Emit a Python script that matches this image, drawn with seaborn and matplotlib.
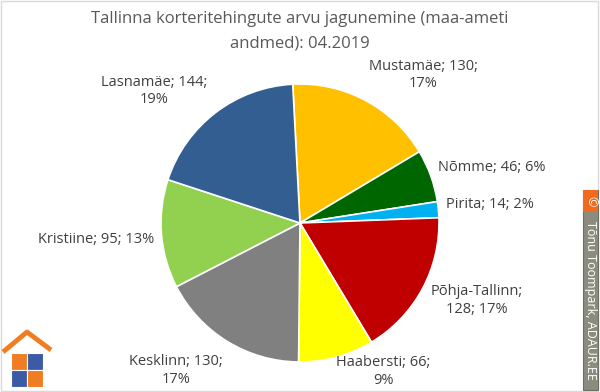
import matplotlib
matplotlib.use("Agg")
import matplotlib.pyplot as plt
import matplotlib.patches as mpatches
import numpy as np
import seaborn as sns

sns.set_theme(style="white")
plt.rcParams['font.family'] = ['Open Sans', 'DejaVu Sans']

# data (clockwise from top)
districts = ["Mustamäe", "Nõmme", "Pirita", "Põhja-Tallinn", "Haabersti",
             "Kesklinn", "Kristiine", "Lasnamäe"]
deals = [130, 46, 14, 128, 66, 130, 95, 144]
pcts = [17, 6, 2, 17, 9, 17, 13, 19]
colors = ["#FFC000", "#006600", "#00B0F0", "#C00000", "#FFFF00",
          "#808080", "#92D050", "#335E91"]
# where each label goes (pie radius units) and how it wraps
label_pos = [(0.885, 1.065), (1.38, 0.40), (1.37, 0.13), (1.27, -0.56),
             (0.60, -1.07), (-0.89, -1.06), (-1.47, -0.12), (-1.05, 0.95)]
wrap = ["after2", "none", "none", "after1", "after2", "after2", "none", "after2"]

fig = plt.figure(figsize=(6, 3.92), dpi=100)
ax = fig.add_axes([0, 0, 1, 1])
ax.pie(deals, colors=colors, startangle=93, counterclock=False, radius=1,
       wedgeprops=dict(edgecolor="white", linewidth=1.2))
ax.set_xlim(-300 / 139, 300 / 139)
ax.set_ylim(-169 / 139, 223 / 139)
ax.set_aspect("equal")
ax.axis("off")

for name, n, p, (x, y), w in zip(districts, deals, pcts, label_pos, wrap):
    if w == "after2":
        txt = f"{name}; {n};\n{p}%"
    elif w == "after1":
        txt = f"{name};\n{n}; {p}%"
    else:
        txt = f"{name}; {n}; {p}%"
    ax.text(x, y, txt, ha="center", va="center", fontsize=10.5,
            color="#404040", linespacing=1.25)

W, H = 600, 392
fig.text(0.5, 1 - 19 / H, "Tallinna korteritehingute arvu jagunemine (maa-ameti",
         ha="center", va="center", fontsize=12, color="#595959")
fig.text(0.5, 1 - 44 / H, "andmed): 04.2019",
         ha="center", va="center", fontsize=12, color="#595959")

# outer frame
fig.patches.append(mpatches.Rectangle((0.002, 0.003), 0.995, 0.994, transform=fig.transFigure,
                                      fill=False, edgecolor="#D9D9D9", linewidth=1))

# copyright strip on the right
fig.patches.append(mpatches.Rectangle((583 / W, 2 / H), 15 / W, 200 / H, transform=fig.transFigure,
                                      facecolor="#8C8C7E", edgecolor="#6E6E62", linewidth=0.8))
fig.patches.append(mpatches.Rectangle((583 / W, 180 / H), 15 / W, 22 / H, transform=fig.transFigure,
                                      facecolor="#F26B1D", edgecolor="none"))
fig.text(590.5 / W, 191 / H, "©", ha="center", va="center", color="white", fontsize=9, rotation=-90)
fig.text(590.5 / W, 92 / H, "Tõnu Toompark, ADAUR.EE", ha="center", va="center",
         color="white", fontsize=9, rotation=-90)

# small house logo bottom left
roof = np.array([[3, 40], [27, 60], [51, 42]])
fig.lines.append(plt.Line2D(roof[:, 0] / W, roof[:, 1] / H, transform=fig.transFigure,
                            color="#F07D22", linewidth=3.5, solid_capstyle="butt"))
for (x0, y0, c) in [(11, 22, "#F07D22"), (27, 22, "#3B5BA5"), (11, 5, "#3B5BA5"), (27, 5, "#F07D22")]:
    fig.patches.append(mpatches.Rectangle((x0 / W, y0 / H), 16 / W, 17 / H, transform=fig.transFigure,
                                          facecolor=c, edgecolor="white", linewidth=0.8))

fig.savefig("out.png", dpi=100)
